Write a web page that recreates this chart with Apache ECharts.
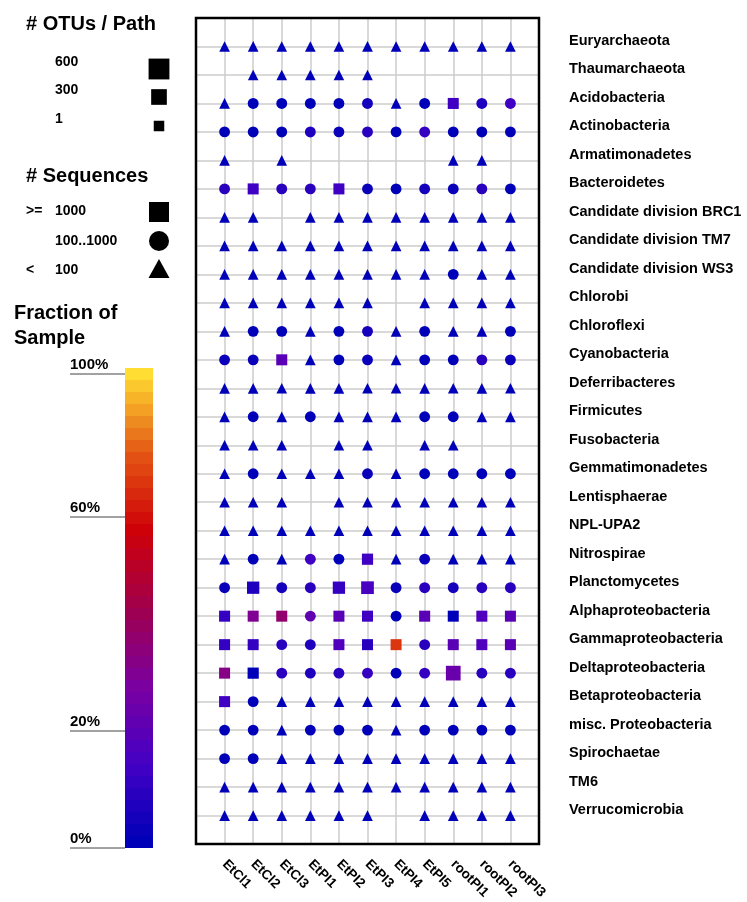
<!DOCTYPE html>
<html>
<head>
<meta charset="utf-8">
<script src="https://cdn.jsdelivr.net/npm/echarts@6/dist/echarts.min.js"></script>
<style>
  html, body { margin: 0; padding: 0; background: #fff; }
  #main { width: 747px; height: 902px; }
</style>
</head>
<body>
<div id="main"></div>
<script>
// samples (columns) and phyla (rows)
const samples = ['EtCl1', 'EtCl2', 'EtCl3', 'EtPI1', 'EtPI2', 'EtPI3', 'EtPI4', 'EtPI5', 'rootPI1', 'rootPI2', 'rootPI3'];
const phyla = [
  'Euryarchaeota', 'Thaumarchaeota', 'Acidobacteria', 'Actinobacteria', 'Armatimonadetes',
  'Bacteroidetes', 'Candidate division BRC1', 'Candidate division TM7', 'Candidate division WS3',
  'Chlorobi', 'Chloroflexi', 'Cyanobacteria', 'Deferribacteres', 'Firmicutes', 'Fusobacteria',
  'Gemmatimonadetes', 'Lentisphaerae', 'NPL-UPA2', 'Nitrospirae', 'Planctomycetes',
  'Alphaproteobacteria', 'Gammaproteobacteria', 'Deltaproteobacteria', 'Betaproteobacteria',
  'misc. Proteobacteria', 'Spirochaetae', 'TM6', 'Verrucomicrobia'
];

// # sequences class per cell: t = < 100, c = 100..1000, s = >= 1000, - = absent
const seqClass = [
  'ttttttttttt', '-ttttt-----', 'tccccctcscc', 'ccccccccccc', 't-t-----tt-',
  'csccscccccc', 'tt-tttttttt', 'ttttttttttt', 'ttttttttctt', 'tttttt-tttt',
  'tcctcctcttc', 'ccstcctcccc', 'ttttttttttt', 'tctctttcctt', 'ttt-tt-tt--',
  'tctttctcccc', 'ttt-ttttttt', 'ttttttttttt', 'tctccstcttt', 'csccssccccc',
  'ssscsscssss', 'ssccssscsss', 'ssccccccscc', 'scttttttttt', 'cctccctcccc',
  'ccttttttttt', 'ttttttttttt', 'tttttt-tttt'
];

// fraction of sample (%)
const fraction = [
  [1, 1, 1, 1, 1, 1, 1, 1, 1, 1, 1],
  [null, 1, 1, 1, 1, 1, null, null, null, null, null],
  [1, 1, 1, 1, 1, 5, 1, 1, 13, 8, 14],
  [1, 1, 1, 8, 4, 10, 1, 11, 1, 1, 1],
  [1, null, 1, null, null, null, null, null, 1, 1, null],
  [10, 13, 9, 10, 13, 4, 1, 6, 4, 10, 1],
  [1, 1, null, 1, 1, 1, 1, 1, 1, 1, 1],
  [1, 1, 1, 1, 1, 1, 1, 1, 1, 1, 1],
  [1, 1, 1, 1, 1, 1, 1, 1, 1, 1, 1],
  [1, 1, 1, 1, 1, 1, null, 1, 1, 1, 1],
  [1, 1, 1, 1, 1, 5, 1, 1, 1, 1, 1],
  [3, 3, 19, 1, 1, 3, 1, 1, 1, 10, 3],
  [1, 1, 1, 1, 1, 1, 1, 1, 1, 1, 1],
  [1, 1, 1, 1, 1, 1, 1, 1, 1, 1, 1],
  [1, 1, 1, null, 1, 1, null, 1, 1, null, null],
  [1, 1, 1, 1, 1, 3, 1, 1, 1, 1, 1],
  [1, 1, 1, null, 1, 1, 1, 1, 1, 1, 1],
  [1, 1, 1, 1, 1, 1, 1, 1, 1, 1, 1],
  [1, 1, 1, 13, 1, 13, 1, 4, 1, 1, 1],
  [4, 8, 6, 10, 11, 16, 4, 10, 6, 9, 9],
  [11, 29, 37, 21, 19, 14, 1, 19, 1, 18, 19],
  [11, 11, 10, 8, 17, 10, 70, 10, 19, 18, 19],
  [32, 1, 10, 7, 10, 11, 1, 11, 23, 9, 10],
  [13, 1, 1, 1, 1, 1, 1, 1, 1, 1, 1],
  [1, 1, 1, 1, 1, 1, 1, 1, 1, 1, 1],
  [1, 1, 1, 1, 1, 1, 1, 1, 1, 1, 1],
  [1, 1, 1, 1, 1, 1, 1, 1, 1, 1, 1],
  [1, 1, 1, 1, 1, 1, null, 1, 1, 1, 1]
];

// # OTUs per path
const otus = [
  [12, 14, 10, 12, 11, 13, 10, 12, 11, 10, 12],
  [null, 8, 10, 9, 8, 10, null, null, null, null, null],
  [15, 25, 22, 24, 20, 22, 12, 20, 30, 24, 22],
  [20, 22, 24, 22, 20, 22, 20, 22, 20, 22, 20],
  [8, null, 6, null, null, null, null, null, 6, 8, null],
  [22, 30, 24, 22, 30, 20, 20, 22, 20, 22, 20],
  [10, 10, null, 8, 10, 8, 8, 10, 8, 10, 8],
  [12, 12, 10, 12, 12, 10, 10, 12, 10, 12, 10],
  [10, 10, 8, 10, 10, 8, 8, 10, 20, 10, 8],
  [10, 10, 8, 10, 10, 8, null, 10, 8, 10, 8],
  [12, 20, 22, 12, 20, 22, 12, 20, 12, 12, 20],
  [20, 20, 30, 12, 20, 20, 12, 20, 20, 20, 20],
  [10, 10, 8, 10, 10, 8, 8, 10, 8, 10, 8],
  [12, 20, 12, 20, 12, 12, 12, 20, 20, 12, 12],
  [8, 8, 8, null, 8, 8, null, 8, 8, null, null],
  [12, 20, 12, 12, 12, 20, 12, 20, 20, 20, 20],
  [8, 8, 8, null, 8, 8, 8, 8, 8, 8, 8],
  [10, 10, 10, 10, 10, 10, 10, 10, 10, 10, 10],
  [12, 20, 12, 22, 20, 40, 12, 20, 12, 12, 12],
  [22, 104, 24, 24, 104, 128, 22, 24, 24, 22, 24],
  [30, 30, 30, 22, 30, 30, 22, 30, 30, 30, 30],
  [30, 30, 22, 22, 30, 30, 30, 22, 30, 30, 30],
  [30, 40, 22, 22, 22, 22, 22, 22, 244, 22, 22],
  [30, 22, 12, 12, 12, 12, 12, 12, 12, 12, 12],
  [20, 20, 12, 20, 20, 20, 12, 20, 20, 20, 20],
  [20, 20, 12, 12, 12, 12, 12, 12, 12, 12, 12],
  [10, 10, 10, 10, 10, 10, 10, 10, 10, 10, 10],
  [10, 10, 10, 10, 10, 10, null, 10, 10, 10, 10]
];

// colour bar: tick labels and the stepped bands between them
const barTicks = [0, 20, 60, 100];
const barSteps = [10, 18, 12];
const barColors = ['#0000b8', '#4400c4', '#7a00a0', '#a0004c', '#ce0008', '#e45814', '#ffdd33'];

const shapeOf = { t: 'triangle', c: 'circle', s: 'rect' };
const sizeOf = n => 10.5 + n / 58;

const chartDom = document.getElementById('main');
const myChart = echarts.init(chartDom);

// scatter data [x, y, fraction, otus, class]
const data = [];
phyla.forEach((p, r) => {
  for (let c = 0; c < samples.length; c++) {
    const k = seqClass[r][c];
    if (k === '-') continue;
    data.push([c, r, fraction[r][c], otus[r][c], k]);
  }
});

// pieces for the stepped colour bar, listed top (high) to bottom
const pieces = [];
const nPieces = barSteps.reduce((a, b) => a + b, 0);
let idx = 0;
barSteps.forEach((n, s) => {
  const lo = barTicks[s], hi = barTicks[s + 1];
  for (let i = 0; i < n; i++) {
    const a = lo + (hi - lo) * i / n, b = lo + (hi - lo) * (i + 1) / n;
    pieces.push({ min: a, max: b, color: echarts.color.lerp(idx / (nPieces - 1), barColors) });
    idx++;
  }
});
pieces.reverse();

const stepH = 12;
const barBottom = 848;
const barTop = barBottom - stepH * nPieces;
const FONT = '"Liberation Sans", Arial, Helvetica, sans-serif';

// legend text + symbols
const graphic = [];
const txt = (x, y, t, size) => graphic.push({
  type: 'text', left: x, top: y - size * 0.6,
  style: { text: t, font: 'bold ' + size + 'px ' + FONT, fill: '#000' }
});
txt(26, 26, '# OTUs / Path', 20);
txt(55, 64, '600', 14);
txt(55, 92, '300', 14);
txt(55, 121, '1', 14);
[[600, 69], [300, 97], [1, 126]].forEach(([n, cy]) => {
  const s = sizeOf(n);
  graphic.push({ type: 'rect', shape: { x: 159 - s / 2, y: cy - s / 2, width: s, height: s }, style: { fill: '#000' } });
});
txt(26, 178, '# Sequences', 20);
txt(26, 213, '>=', 14);
txt(55, 213, '1000', 14);
txt(55, 243, '100..1000', 14);
txt(26, 272, '<', 14);
txt(55, 272, '100', 14);
graphic.push({ type: 'rect', shape: { x: 149, y: 202, width: 20, height: 20 }, style: { fill: '#000' } });
graphic.push({ type: 'circle', shape: { cx: 159, cy: 241, r: 10 }, style: { fill: '#000' } });
graphic.push({ type: 'polygon', shape: { points: [[159, 259], [169.5, 278], [148.5, 278]] }, style: { fill: '#000' } });
txt(14, 315, 'Fraction of', 20);
txt(14, 340, 'Sample', 20);

// colour bar tick labels (underlined)
[[100, 374], [60, 517], [20, 731], [0, 848]].forEach(([v, y]) => {
  graphic.push({
    type: 'text', left: 70, top: y - 17,
    style: { text: v + '%', font: 'bold 15px ' + FONT, fill: '#000' }
  });
  graphic.push({ type: 'line', shape: { x1: 70, y1: y, x2: 125, y2: y }, style: { stroke: '#444', lineWidth: 1 } });
});

const option = {
  backgroundColor: '#fff',
  animation: false,
  grid: {
    left: 196, top: 18, width: 343, height: 827,
    show: true, borderColor: '#000', borderWidth: 2.5, backgroundColor: 'transparent', z: 5
  },
  xAxis: {
    type: 'value', min: -1, max: 11, interval: 1,
    axisLine: { show: false }, axisTick: { show: false },
    splitLine: { show: true, showMinLine: false, showMaxLine: false, lineStyle: { color: '#cccccc', width: 1.5 } },
    axisLabel: {
      rotate: -45, margin: 18,
      fontFamily: FONT, fontWeight: 'bold', fontSize: 13.5, color: '#000',
      formatter: v => samples[v] || ''
    }
  },
  yAxis: {
    type: 'value', min: -1, max: 28, interval: 1, inverse: true, position: 'right',
    axisLine: { show: false }, axisTick: { show: false },
    splitLine: { show: true, showMinLine: false, showMaxLine: false, lineStyle: { color: '#cccccc', width: 1.5 } },
    axisLabel: {
      margin: 30, align: 'left', verticalAlign: 'bottom', lineHeight: 11,
      fontFamily: FONT, fontWeight: 'bold', fontSize: 14.5, color: '#000',
      formatter: v => phyla[v] || ''
    }
  },
  visualMap: {
    type: 'piecewise', dimension: 2, seriesIndex: 0,
    pieces: pieces,
    orient: 'vertical', left: 125, top: barTop, padding: 0,
    itemWidth: 28, itemHeight: stepH, itemGap: 0,
    itemSymbol: 'rect', showLabel: false, selectedMode: false, hoverLink: false,
    textStyle: { fontSize: 0 }
  },
  graphic: graphic,
  series: [{
    type: 'scatter',
    data: data,
    symbol: v => shapeOf[v[4]],
    symbolSize: v => sizeOf(v[3]),
    itemStyle: { opacity: 1 },
    z: 3
  }]
};

myChart.setOption(option);
</script>
</body>
</html>
